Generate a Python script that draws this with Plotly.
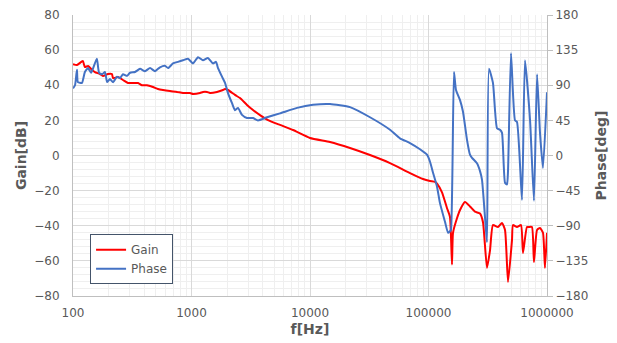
import plotly.graph_objects as go

# ---- data ----
gain_freq = [100, 108, 121, 126, 134, 145, 153, 169, 179, 197, 213, 218, 240, 264, 291, 321, 354, 382,
             421, 473, 521, 575, 658, 755, 848, 971, 1030, 1180, 1250, 1352, 1433, 1641, 1844, 1918,
             2032, 2328, 2566, 2940, 3303, 3785, 4424, 5580, 7188, 10000, 14750, 21760, 32080, 47320,
             69820, 89920, 103000, 113500, 118000, 130000, 143300, 151800, 157800, 161000, 174200,
             184500, 203300, 223900, 246700, 272100, 288300, 311600, 330400, 349900, 385900, 417100,
             442300, 468800, 506600, 516500, 558300, 603500, 627000, 677500, 704700, 746400, 776200,
             824100, 872900, 924700, 961600, 1000000]
gain_db = [52, 51.5, 53.8, 50.4, 51, 48.7, 47.5, 46.4, 45.3, 46.4, 46.4, 44, 44.7, 43, 41.3, 41.3, 41.3, 40,
           40, 39, 37.9, 37.3, 36.7, 36.2, 35.6, 35.6, 35, 35.6, 36.2, 36.2, 35.6, 36.2, 37.3, 37.9,
           37.3, 34.5, 32.7, 28.8, 25.9, 23, 20.2, 17.4, 14.5, 10, 7.7, 4.3, 0.3, -4.3,
           -10, -13.4, -14.5, -15, -16, -21, -30, -35, -62, -44, -35.6,
           -31, -26.5, -29, -32, -33, -38, -64, -54, -39.6, -40.7, -38.4,
           -42.4, -72, -48, -39.6, -40.7, -39.6, -55.5, -40.7, -40.7, -40.7, -60.7,
           -42.4, -41.3, -44, -64, -44]

phase_freq = [100, 104, 108, 110, 119, 126, 134, 142, 148, 159, 166, 176, 186, 194, 205, 218, 235, 249,
              264, 286, 303, 334, 368, 405, 447, 492, 542, 597, 634, 698, 769, 848, 934, 1030, 1135,
              1250, 1377, 1518, 1610, 1674, 1809, 1918, 2032, 2197, 2328, 2468, 2668, 2940, 3303,
              3640, 4336, 5580, 7768, 10600, 14750, 21760, 32080, 47320, 57440, 69820, 84740, 97100,
              103000, 109200, 118000, 125000, 137800, 146200, 151800, 154800, 164100, 170600, 184500,
              195500, 211300, 223900, 232900, 256500, 272100, 282700, 299700, 311600, 324000, 349900,
              378500, 401200, 417100, 442300, 459600, 468800, 496600, 537000, 558300, 615100, 651800,
              719400, 776200, 824100, 872900, 924700, 1000000]
phase_deg = [86, 90, 110, 94, 93, 107, 112, 106, 112, 124, 106, 104, 107, 94, 98, 94, 101, 99,
             104, 102, 106, 107, 111, 108, 112, 108, 113, 115, 112, 118, 120, 122, 124, 118, 126,
             122, 125, 118, 120, 112, 101, 93, 80, 67, 58, 61, 52, 48, 48,
             45, 49, 54, 61, 65, 66, 62, 49, 33, 22, 16, 8, 1,
             -8, -22, -40, -61, -85, -99, -97, -95, 107, 84, 71,
             56, 20, 1, -3, -10, -20, -31, -79, -111, 111, 93,
             35, 33, 29, -35, -37, -20, 131, 45, 43, -57, 122,
             45, -58, 104, 29, -16, 81]

x_major = [100, 1000, 10000, 100000, 1000000]
x_minor = [m * d for d in [100, 1000, 10000, 100000] for m in range(2, 10)]

FONT = "DejaVu Sans"
GRAY = "#595959"

fig = go.Figure()
fig.add_trace(go.Scatter(x=gain_freq, y=gain_db, name="Gain", mode="lines",
                         line=dict(color="#FF0000", width=2, shape="spline", smoothing=0.5)))
fig.add_trace(go.Scatter(x=phase_freq, y=phase_deg, name="Phase", mode="lines", yaxis="y2",
                         line=dict(color="#4472C4", width=2, shape="spline", smoothing=0.5)))

fig.update_layout(
    width=617, height=343,
    margin=dict(l=73, r=70, t=15, b=47),
    paper_bgcolor="white", plot_bgcolor="white",
    font=dict(family=FONT, size=12, color=GRAY),
    xaxis=dict(type="log", range=[2, 6], tickvals=x_major, ticktext=[str(v) for v in x_major],
               showgrid=True, gridcolor="#d9d9d9", gridwidth=1,
               minor=dict(tickvals=x_minor, showgrid=True, gridcolor="#efefef", gridwidth=1),
               showline=True, linecolor="#bfbfbf", linewidth=1,
               ticks="outside", ticklen=6, tickcolor="rgba(0,0,0,0)",
               zeroline=False, automargin=False,
               title=dict(text="<b>f[Hz]</b>", font=dict(size=14, color=GRAY), standoff=4)),
    yaxis=dict(range=[-80, 80], dtick=20, showgrid=True, gridcolor="#d9d9d9", gridwidth=1,
               minor=dict(dtick=4, showgrid=True, gridcolor="#efefef", gridwidth=1),
               showline=True, linecolor="#bfbfbf", linewidth=1, zeroline=False,
               ticks="outside", ticklen=10, tickcolor="rgba(0,0,0,0)", automargin=False,
               title=dict(text="<b>Gain[dB]</b>", font=dict(size=14, color=GRAY), standoff=4)),
    yaxis2=dict(range=[-180, 180], dtick=45, overlaying="y", side="right", showgrid=False,
                showline=True, linecolor="#bfbfbf", linewidth=1, zeroline=False,
                ticks="outside", ticklen=5, tickcolor="#bfbfbf", automargin=False,
                title=dict(text="<b>Phase[deg]</b>", font=dict(size=14, color=GRAY), standoff=8)),
    legend=dict(x=0.036, y=0.22, xanchor="left", yanchor="top",
                bgcolor="white", bordercolor="#44546A", borderwidth=1,
                font=dict(size=12, color=GRAY), tracegroupgap=0, itemwidth=30),
    showlegend=True,
)

fig.write_html("out.html")
